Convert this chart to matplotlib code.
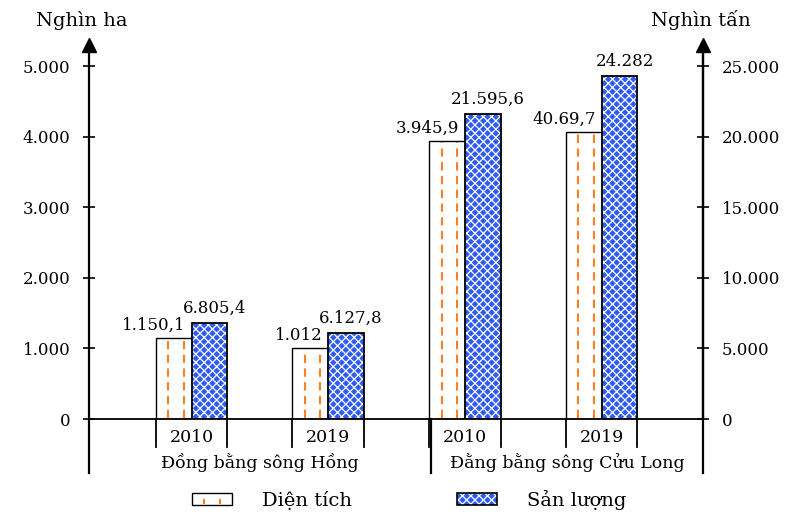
import matplotlib
matplotlib.use('Agg')
import numpy as np
import matplotlib.pyplot as plt
from matplotlib.patches import Rectangle
from matplotlib.lines import Line2D
from matplotlib.legend_handler import HandlerBase
import matplotlib.transforms as mtransforms


##### DADOS #####
regions = ['Đồng bằng sông Hồng', 'Đằng bằng sông Cửu Long']
years = ['2010', '2019', '2010', '2019']
dien_tich = [1150.1, 1012, 3945.9, 4069.7]          # nghìn ha
san_luong = [6805.4, 6127.8, 21595.6, 24282]        # nghìn tấn
dien_tich_labels = ['1.150,1', '1.012', '3.945,9', '40.69,7']
san_luong_labels = ['6.805,4', '6.127,8', '21.595,6', '24.282']
left_ticks = [0, 1000, 2000, 3000, 4000, 5000]
right_ticks = [0, 5000, 10000, 15000, 20000, 25000]

ORANGE = '#FF7F27'
BLUE = '#2F5BF5'
W, H = 789, 514

plt.rcParams['font.family'] = ['DejaVu Serif']
plt.rcParams['hatch.linewidth'] = 0.9


def fmt(v):
    return '{:,}'.format(v).replace(',', '.')


def px(v):  # pixels -> points
    return v * 72 / 100


class DashHandler(HandlerBase):
    def create_artists(self, legend, orig_handle, xdescent, ydescent, width, height, fontsize, trans):
        x0, y0 = -xdescent, -ydescent
        rect = Rectangle((x0, y0), width, height, facecolor='white', edgecolor='black', lw=1.0, transform=trans)
        lines = [Line2D([x0 + width*f]*2, [y0 + 1, y0 + height - 1], color=ORANGE, lw=1.5,
                        linestyle=(0, (2.5, 3)), transform=trans) for f in (0.3, 0.7)]
        return [rect] + lines


class CrossHandler(HandlerBase):
    def create_artists(self, legend, orig_handle, xdescent, ydescent, width, height, fontsize, trans):
        x0, y0 = -xdescent, -ydescent
        back = Rectangle((x0, y0), width, height, facecolor=BLUE, edgecolor='white', lw=0, hatch='xxxx', transform=trans)
        edge = Rectangle((x0, y0), width, height, fill=False, edgecolor='black', lw=1.2, transform=trans)
        return [back, edge]


fig = plt.figure(figsize=(W/100, H/100), dpi=100)
ax = fig.add_axes([89/W, (H-419)/H, (703-89)/W, (419-45)/H])

x = np.arange(len(years)) + 0.75
bw = 0.262
xmax = (703 - 89) / 136.7
ymax = 5300

ax.set_xlim(0, xmax)
ax.set_ylim(0, ymax)

# dien tich (trang + vach cam)
ax.bar(x - bw/2, dien_tich, bw, color='white', edgecolor='black', linewidth=1.0, zorder=2)
for xi, v in zip(x - bw, dien_tich):
    for f in (0.35, 0.78):
        ax.plot([xi + bw*f]*2, [20, v - 20], color=ORANGE, lw=1.5, linestyle=(0, (4, 2.6)), zorder=3)

# san luong (xanh + luoi trang), truc phai
sl_scaled = [v / 5 for v in san_luong]
ax.bar(x + bw/2, sl_scaled, bw, color=BLUE, edgecolor='white', linewidth=0, hatch='xxxx', zorder=2)
ax.bar(x + bw/2, sl_scaled, bw, fill=False, edgecolor='black', linewidth=1.3, zorder=4)

for xi, v, lab in zip(x, dien_tich, dien_tich_labels):
    ax.annotate(lab, (xi - 0.04, v), xytext=(0, px(4)), textcoords='offset points',
                ha='right', va='bottom', fontsize=12)
for xi, v, lab in zip(x + bw/2, sl_scaled, san_luong_labels):
    ax.annotate(lab, (xi, v), xytext=(px(5), px(6)), textcoords='offset points',
                ha='center', va='bottom', fontsize=12)

# eixos
ax.spines['top'].set_visible(False)
for s in ('left', 'right'):
    ax.spines[s].set_linewidth(1.6)
ax.spines['bottom'].set_linewidth(1.3)
ax.set_yticks(left_ticks)
ax.set_yticklabels([fmt(t) for t in left_ticks], fontsize=12)
ax.set_xticks([])
ax.tick_params(axis='y', direction='inout', length=8, width=1.2, pad=px(13))

ax2 = ax.twinx()
ax2.set_ylim(0, ymax * 5)
ax2.set_yticks(right_ticks)
ax2.set_yticklabels([fmt(t) for t in right_ticks], fontsize=12)
ax2.tick_params(axis='y', direction='inout', length=8, width=1.2, pad=px(13))
for s in ('top', 'left', 'bottom'):
    ax2.spines[s].set_visible(False)
ax2.spines['right'].set_linewidth(1.6)

for xa in (0, 1):
    ax.plot([xa], [1], marker='^', ms=10, color='black', transform=ax.transAxes, clip_on=False, zorder=6)

# linhas abaixo do eixo
trans = mtransforms.blended_transform_factory(ax.transData, ax.transAxes)
ax_h = 419 - 45
for xb in (0, 2.5, xmax):
    ax.plot([xb, xb], [0, -54/ax_h], color='black', lw=1.6, transform=trans, clip_on=False)
for xi in x:
    for xb in (xi - bw, xi + bw):
        ax.plot([xb, xb], [0, -28/ax_h], color='black', lw=1.3, transform=trans, clip_on=False)

for xi, yr in zip(x, years):
    ax.annotate(yr, (xi, 0), xycoords=trans, xytext=(0, -px(18)), textcoords='offset points',
                ha='center', va='center', fontsize=12.5)
for xc, reg in zip([1.25, (2.5 + xmax)/2], regions):
    ax.annotate(reg, (xc, 0), xycoords=trans, xytext=(0, -px(44)), textcoords='offset points',
                ha='center', va='center', fontsize=12.5)

fig.text(82/W, 1 - 20/H, 'Nghìn ha', ha='center', va='center', fontsize=14)
fig.text(701/W, 1 - 20/H, 'Nghìn tấn', ha='center', va='center', fontsize=14)

fs = 14
fpx = fs * 100 / 72
leg = fig.legend([Rectangle((0, 0), 1, 1), Line2D([], [])], ['Diện tích', 'Sản lượng'],
                 handler_map={Rectangle: DashHandler(), Line2D: CrossHandler()},
                 loc='center', bbox_to_anchor=(409/W, 1 - 500/H), ncol=2, frameon=False,
                 fontsize=fs, handlelength=40/fpx, handleheight=12/fpx,
                 handletextpad=30/fpx, columnspacing=105/fpx)

fig.savefig('out.png', dpi=100)
